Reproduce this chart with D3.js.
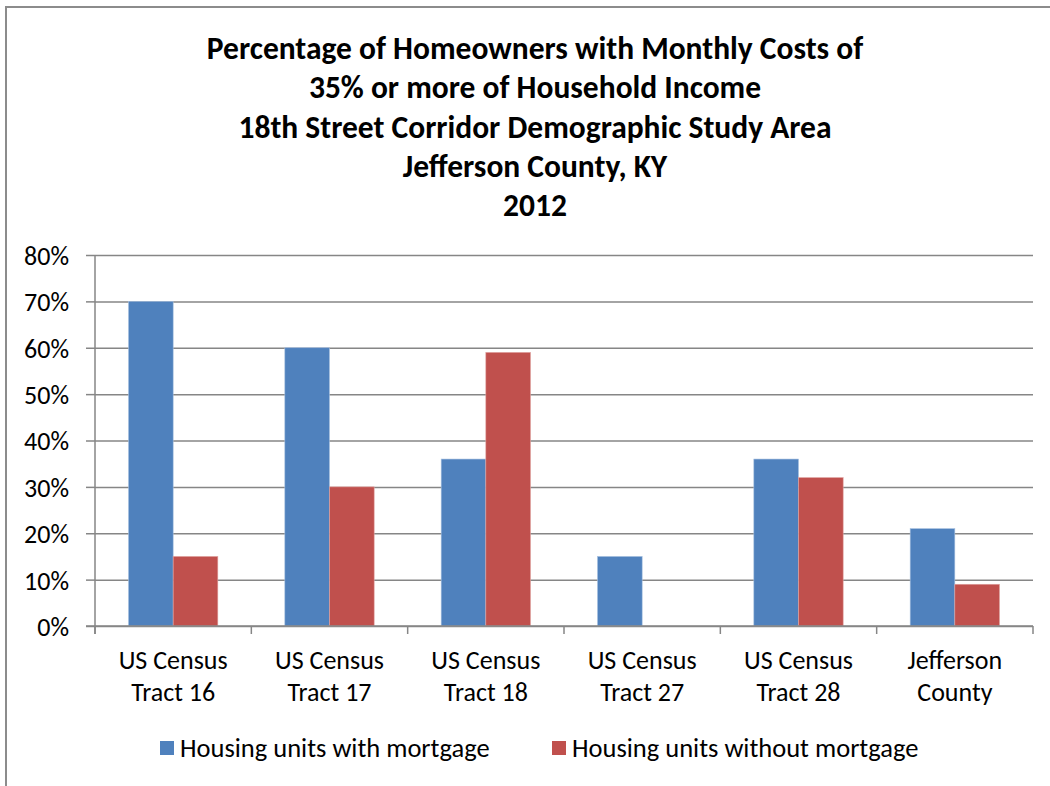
<!DOCTYPE html>
<html lang="en">
<head>
    <meta charset="UTF-8">
    <title>Homeowners Monthly Costs 35%+</title>
    <script src="https://d3js.org/d3.v7.min.js"></script>
    <style>
        body {
            margin: 0;
            background: #fff;
        }
        svg {
            display: block;
        }
        text {
            font-family: Carlito, Calibri, Lato, sans-serif;
            fill: #000;
        }
        .title {
            font-size: 31.5px;
            font-weight: bold;
        }
        .axis text {
            font-size: 26px;
        }
        .cat-label {
            font-size: 26px;
        }
        .legend-label {
            font-size: 26.5px;
        }
    </style>
</head>
<body>
    <script>
        const width = 1050;
        const height = 786;

        const titleLines = [
            "Percentage of Homeowners with Monthly Costs of",
            "35% or more of Household Income",
            "18th Street Corridor Demographic Study Area",
            "Jefferson County, KY",
            "2012"
        ];
        const categories = [
            ["US Census", "Tract 16"],
            ["US Census", "Tract 17"],
            ["US Census", "Tract 18"],
            ["US Census", "Tract 27"],
            ["US Census", "Tract 28"],
            ["Jefferson", "County"]
        ];
        const seriesNames = ["Housing units with mortgage", "Housing units without mortgage"];
        const withMortgage = [70, 60, 36, 15, 36, 21];
        const withoutMortgage = [15, 30, 59, 0, 32, 9];
        const yTicks = [0, 10, 20, 30, 40, 50, 60, 70, 80];

        const colors = ["#4F81BD", "#C0504D"];
        const margin = {left: 95, right: 17, top: 255, bottom: 160};

        const svg = d3.select("body").append("svg")
            .attr("width", width)
            .attr("height", height);

        // chart area border
        svg.append("path")
            .attr("d", `M6,${height} V7 H${width}`)
            .attr("fill", "none")
            .attr("stroke", "#8c8c8c")
            .attr("stroke-width", 2);

        // title
        svg.append("g").selectAll("text")
            .data(titleLines)
            .enter()
            .append("text")
            .attr("class", "title")
            .attr("x", 535)
            .attr("y", (d, i) => 59 + i * 39.3)
            .attr("text-anchor", "middle")
            .text(d => d);

        const idx = d3.range(categories.length);
        const x = d3.scaleBand()
            .domain(idx)
            .range([margin.left, width - margin.right])
            .paddingInner(0)
            .paddingOuter(0);
        // Excel gap width 150%: 2 bars + 1.5 bar gap per category
        const barW = x.bandwidth() / 3.5;

        const y = d3.scaleLinear()
            .domain([0, 80])
            .range([height - margin.bottom, margin.top]);

        // y axis with gridlines
        const yAxis = svg.append("g")
            .attr("class", "axis")
            .attr("transform", `translate(${margin.left},0)`)
            .call(d3.axisLeft(y)
                .tickValues(yTicks)
                .tickFormat(d => d + "%")
                .tickSizeInner(-(width - margin.left - margin.right))
                .tickSizeOuter(0)
                .tickPadding(26));
        yAxis.select(".domain").remove();
        yAxis.selectAll(".tick line")
            .attr("stroke", "#868686")
            .attr("stroke-width", 1.5);
        // short outer tick marks
        yAxis.selectAll(".tick")
            .append("line")
            .attr("x1", -9)
            .attr("x2", 0)
            .attr("stroke", "#868686")
            .attr("stroke-width", 1.5);
        yAxis.selectAll(".tick text")
            .attr("dy", "0.36em");

        // bars
        const series = [withMortgage, withoutMortgage];
        series.forEach((vals, s) => {
            svg.append("g").selectAll("rect")
                .data(vals)
                .enter()
                .append("rect")
                .attr("x", (d, i) => x(i) + barW * 0.75 + s * barW)
                .attr("y", d => y(d))
                .attr("width", barW)
                .attr("height", d => y(0) - y(d))
                .attr("fill", colors[s])
                .attr("stroke", d => d > 0 ? (s === 0 ? "#a7c0e0" : "#e0a3a1") : "none")
                .attr("stroke-width", 0.6);
        });

        // y axis line (drawn above bars)
        svg.append("line")
            .attr("x1", margin.left).attr("x2", margin.left)
            .attr("y1", y(80)).attr("y2", y(0) + 8)
            .attr("stroke", "#868686")
            .attr("stroke-width", 1.5);

        // x axis
        const xAxis = svg.append("g")
            .attr("transform", `translate(0,${y(0)})`);
        xAxis.append("line")
            .attr("x1", margin.left - 9)
            .attr("x2", width - margin.right)
            .attr("stroke", "#868686")
            .attr("stroke-width", 1.5);
        xAxis.selectAll(".xtick")
            .data(d3.range(categories.length + 1))
            .enter()
            .append("line")
            .attr("class", "xtick")
            .attr("x1", d => margin.left + d * x.bandwidth())
            .attr("x2", d => margin.left + d * x.bandwidth())
            .attr("y1", 0)
            .attr("y2", 8)
            .attr("stroke", "#868686")
            .attr("stroke-width", 1.5);

        const catLabels = svg.append("g").selectAll("text")
            .data(categories)
            .enter()
            .append("text")
            .attr("class", "cat-label")
            .attr("text-anchor", "middle")
            .attr("transform", (d, i) => `translate(${x(i) + x.bandwidth() / 2},0)`);
        catLabels.selectAll("tspan")
            .data(d => d)
            .enter()
            .append("tspan")
            .attr("x", 0)
            .attr("y", (d, i) => 669 + i * 32)
            .text(d => d);

        // legend
        const legendX = [160, 552];
        const legend = svg.append("g").selectAll("g")
            .data(seriesNames)
            .enter()
            .append("g")
            .attr("transform", (d, i) => `translate(${legendX[i]},741)`);
        legend.append("rect")
            .attr("width", 14)
            .attr("height", 14)
            .attr("fill", (d, i) => colors[i]);
        legend.append("text")
            .attr("class", "legend-label")
            .attr("x", 20)
            .attr("y", 16)
            .text(d => d);
    </script>
</body>
</html>
